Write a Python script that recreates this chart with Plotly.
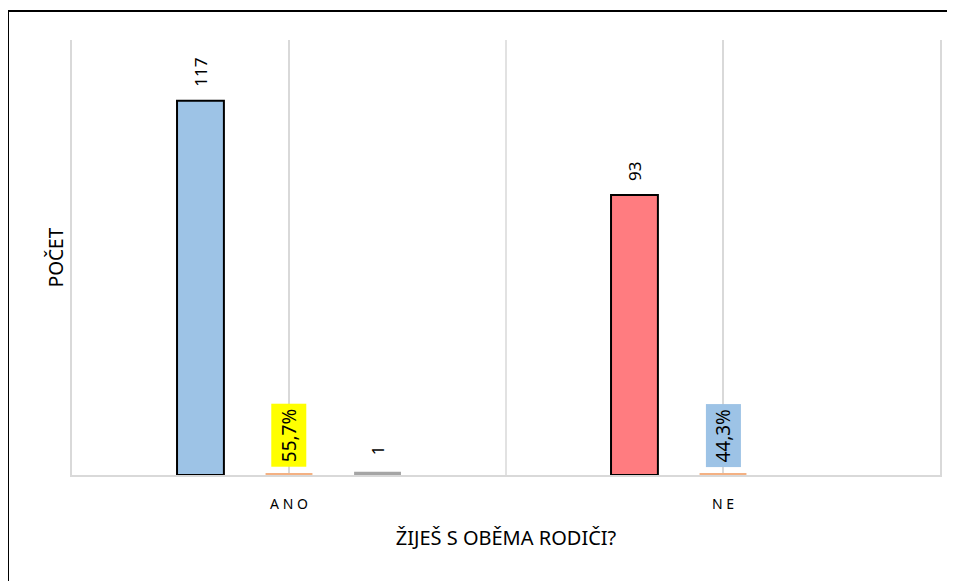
import plotly.graph_objects as go

categories = ["ANO", "NE"]
tick_labels = ["A N O", "N E"]
counts = [117, 93]
count_colors = ["#9DC3E6", "#FF7C80"]
percents = [0.557, 0.443]
percent_labels = ["55,7%", "44,3%"]
percent_bg = ["#FFFF00", "#9DC3E6"]
other = [1, None]

FONT = "Noto Sans, Open Sans, sans-serif"
SLOT = 0.204
BW = 0.108

# page body has an 8px margin: figure covers screen 8..955 x 8..581
W, H = 947, 573
PL, PR, PT, PB = 64, 932, 32, 467  # plot area in figure px

fig = go.Figure()

for i, cat in enumerate(categories):
    fig.add_trace(go.Bar(
        x=[cat], y=[counts[i]], yaxis="y" if i == 0 else "y2",
        offset=-SLOT - BW / 2, width=BW,
        marker=dict(color=count_colors[i], line=dict(color="black", width=2)),
        showlegend=False, hoverinfo="y"))
    fig.add_annotation(x=i - SLOT, y=counts[i], yref="y" if i == 0 else "y2",
                       text=str(counts[i]), textangle=-90, showarrow=False,
                       yanchor="bottom", yshift=12,
                       font=dict(family=FONT, size=17, color="black"))

fig.add_trace(go.Bar(
    x=categories, y=percents, offset=-BW / 2, width=BW,
    marker=dict(color="#F4B183", line=dict(width=0)),
    showlegend=False, hoverinfo="y"))
for i, cat in enumerate(categories):
    fig.add_annotation(x=i, y=percents[i], text=percent_labels[i], textangle=-90,
                       showarrow=False, yanchor="bottom", yshift=6,
                       bgcolor=percent_bg[i], borderpad=4,
                       font=dict(family=FONT, size=19, color="black"))

fig.add_trace(go.Bar(
    x=categories, y=other, offset=SLOT - BW / 2, width=BW,
    marker=dict(color="#A5A5A5", line=dict(width=0)),
    showlegend=False, hoverinfo="y"))
for i, cat in enumerate(categories):
    if other[i] is not None:
        fig.add_annotation(x=i + SLOT, y=other[i], text=str(other[i]), textangle=-90,
                           showarrow=False, yanchor="bottom", yshift=14,
                           font=dict(family=FONT, size=17, color="black"))

fig.add_shape(type="line", x0=0.5, x1=0.5, xref="x", y0=0, y1=1, yref="paper",
              line=dict(color="#D9D9D9", width=1.5), layer="below")

# outer chart border (cut off at right and bottom)
pw, ph = PR - PL, PB - PT
fig.add_shape(type="rect", xref="paper", yref="paper",
              x0=(0 - PL) / pw, x1=1.2, y0=-0.5, y1=(PB - 3) / ph,
              line=dict(color="black", width=2))

fig.update_layout(
    width=W, height=H,
    margin=dict(l=PL, r=W - PR, t=PT, b=H - PB),
    paper_bgcolor="white", plot_bgcolor="white",
    barmode="overlay",
    font=dict(family=FONT, color="black"),
    xaxis=dict(
        type="category", categoryorder="array", categoryarray=categories,
        tickvals=categories, ticktext=tick_labels, range=[-0.5, 1.5],
        showgrid=True, gridcolor="#D9D9D9", gridwidth=1.5,
        showline=True, linecolor="#D9D9D9", linewidth=2,
        ticks="", ticklabelstandoff=15,
        tickfont=dict(family=FONT, size=14, color="black"),
        title=dict(text="ŽIJEŠ S OBĚMA RODIČI?", standoff=19,
                   font=dict(family=FONT, size=20, color="black")),
    ),
    yaxis=dict(
        range=[0, 136], showgrid=False, zeroline=False, showticklabels=False,
        showline=True, linecolor="#D9D9D9", linewidth=1.5, mirror=True, ticks="",
        title=dict(text="POČET", standoff=2,
                   font=dict(family=FONT, size=19, color="black")),
    ),
    yaxis2=dict(range=[0, 144.5], overlaying="y", visible=False),
)

fig.write_html("out.html")
